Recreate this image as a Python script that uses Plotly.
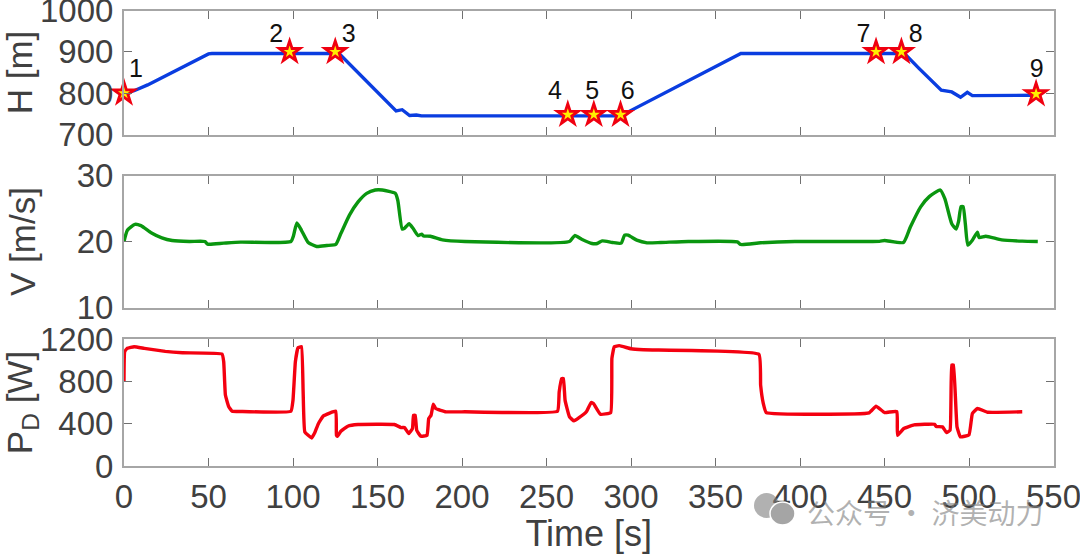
import plotly.graph_objects as go

time_h = [0, 6, 14, 50, 52, 98, 102, 106, 125, 128, 147.7, 161, 164.6, 169, 173, 176, 293.8, 363.5, 365, 460, 462, 470.4, 483.6, 489.8, 495, 499, 502, 540]
height = [800, 806, 820, 895, 896, 896, 896, 898, 896, 893, 811, 757, 760, 746, 747, 745, 745, 895, 896, 896, 895, 860, 807, 803, 790, 802, 794, 795]

time_v = [0, 2, 6.5, 10, 16.3, 22.4, 28.5, 38.7, 47.9, 49.5, 59, 69, 98.8, 100.2, 102.3, 105, 109, 114, 120, 125.3, 128.3, 133.4, 138.5, 143.6, 148.7, 152.8, 160.5, 162, 164.6, 166, 168.7, 171, 174, 176.2, 177.2, 181.3, 188.4, 201.7, 263.6, 266.7, 270.8, 276.9, 280, 283, 289, 294.2, 296.2, 298.3, 303.4, 309.5, 317.6, 333.9, 362.9, 364.9, 376.7, 397, 447, 450, 461.2, 465.3, 471.4, 476.5, 483, 485.7, 489.8, 492.4, 493.8, 495.3, 496.5, 497.9, 499.3, 502, 505, 506, 510, 519.3, 531.5, 540.7]
speed = [20, 21.7, 22.6, 22.4, 21.3, 20.55, 20.15, 20, 20, 19.6, 19.75, 19.9, 20, 20.8, 22.8, 21.7, 19.85, 19.25, 19.4, 19.55, 21.2, 24, 26, 27.3, 27.8, 27.8, 27.3, 26.25, 21.9, 22, 22.7, 22, 20.9, 21.1, 20.85, 20.8, 20.25, 20, 20, 20.9, 20.35, 19.7, 19.7, 20.1, 19.85, 19.75, 20.95, 20.95, 20.2, 19.8, 19.85, 20, 19.95, 19.55, 19.8, 20, 20.02, 20.15, 19.85, 22.2, 25.25, 26.8, 27.8, 26.5, 22.7, 21.9, 23, 25.3, 25.3, 22.5, 19.45, 20.2, 21.4, 20.6, 20.8, 20.25, 20.05, 20]

time_p = [0, 0.4, 2, 6, 12, 24.4, 34.6, 58, 59, 60, 62, 64, 69, 98.8, 100, 101.4, 103, 105, 106, 107, 111, 113, 115, 118, 125.3, 125.7, 126.3, 128.3, 132.4, 138.5, 160, 164, 166, 168.5, 170.7, 171.3, 172.3, 173.2, 175.6, 179.3, 180.3, 181.7, 183, 184.4, 190.5, 201.7, 256.5, 257.5, 259, 260, 261, 263.6, 266.3, 271.8, 273.8, 276.4, 277.8, 281.9, 288, 288.7, 290.1, 293, 300, 307.4, 375.7, 376.7, 378.3, 380, 440.9, 445, 450, 457.3, 457.7, 461.4, 467.5, 479.6, 480.6, 484.3, 486.7, 488.8, 489.8, 490.8, 492.9, 494.9, 500, 502, 505, 511, 531.5]
power = [802, 1080, 1112, 1127, 1112, 1083, 1070, 1058, 985, 670, 559, 518, 515, 518, 622, 985, 1118, 1127, 700, 322, 265, 320, 400, 474, 518, 290, 281, 328, 376, 392, 392, 363, 363, 306, 354, 480, 480, 338, 281, 290, 448, 480, 584, 543, 512, 512, 518, 700, 827, 827, 620, 464, 426, 486, 518, 600, 590, 489, 505, 1017, 1127, 1137, 1108, 1098, 1055, 764, 590, 505, 502, 565, 505, 515, 290, 354, 388, 395, 373, 370, 316, 338, 954, 954, 370, 275, 294, 496, 543, 508, 512]

star_t = [0, 98, 125, 262.6, 278, 293.8, 445, 460, 539.7]
star_h = [800, 900, 900, 748, 748, 748, 900, 900, 798]
star_labels = ["1", "2", "3", "4", "5", "6", "7", "8", "9"]
label_t = [7, 90, 133, 255, 277, 298, 437.5, 468.5, 540]
label_h = [855, 939, 939, 802, 802, 802, 939, 939, 855]

x_ticks = [0, 50, 100, 150, 200, 250, 300, 350, 400, 450, 500, 550]
h_ticks = [700, 800, 900, 1000]
v_ticks = [10, 20, 30]
p_ticks = [0, 400, 800, 1200]

W, H = 1080, 554
GRAY = "#404040"
AXIS = "#a6a6a6"
FONT = "Liberation Sans"
TICK_SIZE = 33
TITLE_SIZE = 35
WATER = "rgba(125,125,125,0.6)"


def ydom(top, bottom):
    return [1 - bottom / H, 1 - top / H]


fig = go.Figure()
fig.add_trace(go.Scatter(x=time_h, y=height, mode="lines", line=dict(color="#0a3de0", width=3.4), xaxis="x", yaxis="y", showlegend=False))
fig.add_trace(go.Scatter(x=star_t, y=star_h, mode="markers", cliponaxis=False,
                         marker=dict(symbol="star", size=22, color="#f00010", line=dict(width=0)),
                         xaxis="x", yaxis="y", showlegend=False))
fig.add_trace(go.Scatter(x=star_t, y=star_h, mode="markers", cliponaxis=False,
                         marker=dict(symbol="star", size=9, color="#ffee00", line=dict(width=0)),
                         xaxis="x", yaxis="y", showlegend=False))
fig.add_trace(go.Scatter(x=label_t, y=label_h, mode="text", text=star_labels, textposition="middle center", cliponaxis=False,
                         textfont=dict(family=FONT, size=25, color="#111111"), xaxis="x", yaxis="y", showlegend=False))
fig.add_trace(go.Scatter(x=time_v, y=speed, mode="lines", line=dict(color="#0a960f", width=3.4, shape="spline", smoothing=0.5), xaxis="x2", yaxis="y2", showlegend=False))
fig.add_trace(go.Scatter(x=time_p, y=power, mode="lines", line=dict(color="#f40010", width=3.4, shape="spline", smoothing=0.3), xaxis="x3", yaxis="y3", showlegend=False))

x_common = dict(domain=[124 / W, 1053.5 / W], range=[0, 550], tickmode="array", tickvals=x_ticks, automargin=False,
                ticks="inside", ticklen=8, tickwidth=1.2, tickcolor="#707070", showline=True, linecolor=AXIS, linewidth=2,
                mirror="ticks", showgrid=False, zeroline=False, ticklabeloverflow="allow",
                tickfont=dict(family=FONT, size=TICK_SIZE, color=GRAY))
y_common = dict(ticks="inside", ticklen=8, tickwidth=1.2, tickcolor="#707070", showline=True, linecolor=AXIS, linewidth=2,
                mirror="ticks", showgrid=False, zeroline=False, automargin=False, ticklabeloverflow="allow",
                tickfont=dict(family=FONT, size=TICK_SIZE, color=GRAY), ticklabelstandoff=2)


def yax(anchor, top, bottom, rng, ticks, title, standoff):
    d = dict(y_common)
    d.update(anchor=anchor, domain=ydom(top, bottom), range=rng, tickmode="array", tickvals=ticks,
             title=dict(text=title, font=dict(family=FONT, size=TITLE_SIZE, color=GRAY), standoff=standoff))
    return d


fig.update_layout(
    width=W, height=H, margin=dict(l=0, r=0, t=0, b=0), paper_bgcolor="white", plot_bgcolor="white",
    xaxis=dict(x_common, anchor="y", showticklabels=False),
    xaxis2=dict(x_common, anchor="y2", showticklabels=False),
    xaxis3=dict(x_common, anchor="y3", title=dict(text="Time [s]", font=dict(family=FONT, size=36, color=GRAY), standoff=4)),
    yaxis=yax("x", 10.5, 134.5, [700, 1000], h_ticks, "H [m]", 8),
    yaxis2=yax("x2", 175.5, 307.5, [10, 30], v_ticks, "V [m/s]", 30),
    yaxis3=yax("x3", 339, 466, [0, 1200], p_ticks, "P<sub>D</sub> [W]", 4),
    annotations=[dict(text="公众号 · 济美动力", xref="paper", yref="paper", x=925 / W, y=1 - 512 / H,
                      xanchor="center", yanchor="middle", showarrow=False,
                      font=dict(family="Noto Sans CJK SC", size=28, color=WATER))],
    shapes=[
        dict(type="circle", xref="paper", yref="paper", x0=754 / W, x1=779 / W, y0=1 - 518 / H, y1=1 - 493 / H,
             fillcolor=WATER, line=dict(width=0)),
        dict(type="circle", xref="paper", yref="paper", x0=770 / W, x1=795 / W, y0=1 - 525 / H, y1=1 - 502 / H,
             fillcolor="rgb(165,165,165)", line=dict(color="white", width=1.5)),
    ],
)

fig.write_html("out.html", config=dict(displayModeBar=False), post_script="document.body.style.margin='0';")
